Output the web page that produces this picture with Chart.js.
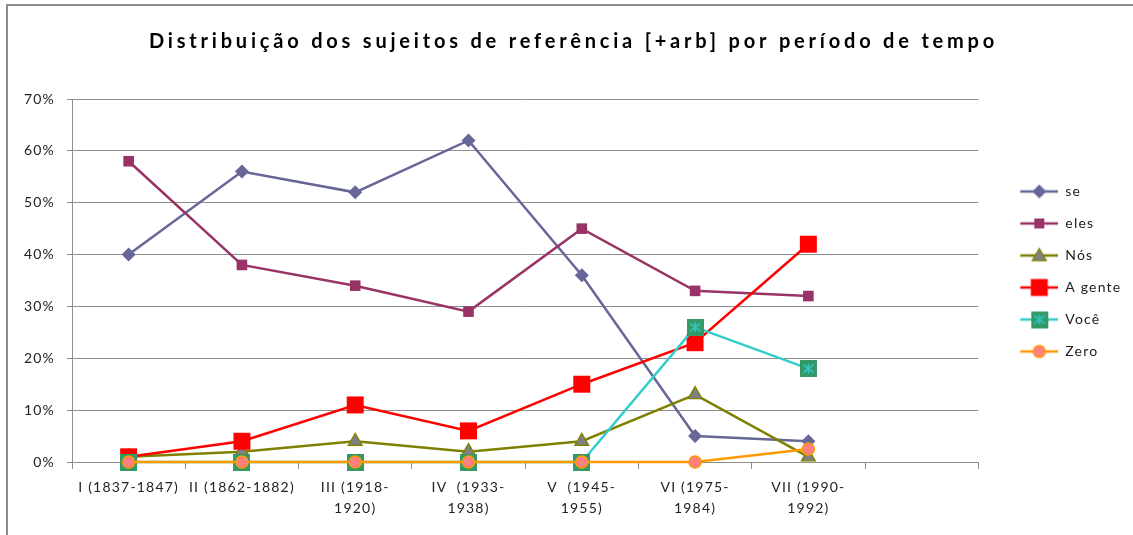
<!DOCTYPE html>
<html>
<head>
<meta charset="utf-8">
<script src="https://cdn.jsdelivr.net/npm/chart.js@4/dist/chart.umd.min.js"></script>
<style>
  html, body { margin: 0; padding: 0; background: #fff; overflow: hidden; }
  #frame { position: absolute; left: 6px; top: 4px; width: 1200px; height: 600px;
           border-top: 2px solid #8c8c8c; border-left: 2px solid #8c8c8c; }
  #wrap { position: absolute; left: 0; top: 0; width: 1133px; height: 535px; }
</style>
</head>
<body>
<div id="frame"></div>
<div id="wrap"><canvas id="chart" width="1133" height="535"></canvas></div>
<script>
// periods (the 8th slot is empty in the original)
const periods = [
    "I (1837-1847)",
    "II (1862-1882)",
    ["III (1918-", "1920)"],
    ["IV  (1933-", "1938)"],
    ["V  (1945-", "1955)"],
    ["VI (1975-", "1984)"],
    ["VII (1990-", "1992)"],
    ""
];

const seriesNames = ["se", "eles", "Nós", "A gente", "Você", "Zero"];

// percentages
const seVals     = [40, 56, 52, 62, 36, 5, 4, null];
const elesVals   = [58, 38, 34, 29, 45, 33, 32, null];
const nosVals    = [1, 2, 4, 2, 4, 13, 1, null];
const aGenteVals = [1, 4, 11, 6, 15, 23, 42, null];
const voceVals   = [0, 0, 0, 0, 0, 26, 18, null];
const zeroVals   = [0, 0, 0, 0, 0, 0, 2.5, null];

const yTicks = [0, 10, 20, 30, 40, 50, 60, 70];

const GRID = "#8f8f8f";
const FONT = "Lato";

function vocePoint(size) {
    const c = document.createElement("canvas");
    c.width = c.height = size;
    const g = c.getContext("2d");
    g.fillStyle = "#339966";
    g.fillRect(0, 0, size, size);
    g.strokeStyle = "#33CCCC";
    g.lineWidth = 1.4;
    const m = size / 2, a = size * 0.3;
    g.beginPath();
    g.moveTo(m, m - a); g.lineTo(m, m + a);
    g.moveTo(m - a, m - a * 0.75); g.lineTo(m + a, m + a * 0.75);
    g.moveTo(m - a, m + a * 0.75); g.lineTo(m + a, m - a * 0.75);
    g.stroke();
    return c;
}

// legend icon: line + marker, drawn in right part of a 62px wide box
function legendIcon(lineColor, drawMarker) {
    const c = document.createElement("canvas");
    c.width = 62; c.height = 20;
    const g = c.getContext("2d");
    g.strokeStyle = lineColor;
    g.lineWidth = 2.5;
    g.beginPath(); g.moveTo(24, 10); g.lineTo(62, 10); g.stroke();
    drawMarker(g, 43, 10);
    return c;
}

const legendIcons = [
    legendIcon("#666699", (g, x, y) => {
        g.fillStyle = "#666699";
        g.beginPath(); g.moveTo(x - 7, y); g.lineTo(x, y - 7); g.lineTo(x + 7, y); g.lineTo(x, y + 7); g.closePath(); g.fill();
    }),
    legendIcon("#993366", (g, x, y) => { g.fillStyle = "#993366"; g.fillRect(x - 5, y - 5, 10, 10); }),
    legendIcon("#808000", (g, x, y) => {
        g.fillStyle = "#808080"; g.strokeStyle = "#808000"; g.lineWidth = 1.3;
        g.beginPath(); g.moveTo(x, y - 7); g.lineTo(x + 7, y + 5); g.lineTo(x - 7, y + 5); g.closePath(); g.fill(); g.stroke();
    }),
    legendIcon("#FF0000", (g, x, y) => { g.fillStyle = "#FF0000"; g.fillRect(x - 8.5, y - 8.5, 17, 17); }),
    legendIcon("#33CCCC", (g, x, y) => { g.drawImage(vocePoint(17), x - 8.5, y - 8.5); }),
    legendIcon("#FF9900", (g, x, y) => {
        g.fillStyle = "#FF8080"; g.strokeStyle = "#FF9900"; g.lineWidth = 1.5;
        g.beginPath(); g.arc(x, y, 6, 0, Math.PI * 2); g.fill(); g.stroke();
    })
];

// the original text is spaced out; title even more
const spacedText = {
    id: "spacedText",
    beforeDraw(chart) {
        chart.ctx.letterSpacing = "1.2px";
        const t = chart.titleBlock;
        if (t && !t._spaced) {
            const orig = t.draw.bind(t);
            t.draw = function (area) {
                const ctx = chart.ctx;
                const prev = ctx.letterSpacing;
                ctx.save();
                ctx.translate(12, 0);
                ctx.letterSpacing = "3.8px";
                orig(area);
                ctx.restore();
                ctx.letterSpacing = prev;
            };
            t._spaced = true;
        }
    },
    afterDraw(chart) { chart.ctx.letterSpacing = "0px"; }
};

const vocePointImg = vocePoint(17);

const datasets = [
    { label: seriesNames[0], data: seVals, borderColor: "#666699", backgroundColor: "#666699",
      pointStyle: "rectRot", pointRadius: 7, borderWidth: 2.5, pointBorderWidth: 0, order: 6, clip: false },
    { label: seriesNames[1], data: elesVals, borderColor: "#993366", backgroundColor: "#993366",
      pointStyle: "rect", pointRadius: 7.5, borderWidth: 2.5, pointBorderWidth: 0, order: 5, clip: false },
    { label: seriesNames[2], data: nosVals, borderColor: "#808000", backgroundColor: "#808080",
      pointBorderColor: "#808000", pointStyle: "triangle", pointRadius: 8, borderWidth: 2.5, pointBorderWidth: 1.3, order: 4, clip: false },
    { label: seriesNames[3], data: aGenteVals, borderColor: "#FF0000", backgroundColor: "#FF0000",
      pointStyle: "rect", pointRadius: 12, borderWidth: 2.5, pointBorderWidth: 0, order: 3, clip: false },
    { label: seriesNames[4], data: voceVals, borderColor: "#33CCCC", backgroundColor: "#339966",
      pointStyle: vocePointImg, pointRadius: 9, borderWidth: 2.5, order: 2, clip: false },
    { label: seriesNames[5], data: zeroVals, borderColor: "#FF9900", backgroundColor: "#FF8080",
      pointBorderColor: "#FF9900", pointStyle: "circle", pointRadius: 6, borderWidth: 2.5, pointBorderWidth: 1.5, order: 1, clip: false }
];

new Chart(document.getElementById("chart"), {
    type: "line",
    data: { labels: periods, datasets },
    plugins: [spacedText],
    options: {
        responsive: false,
        animation: false,
        devicePixelRatio: 1,
        layout: { padding: { left: 0, right: 10, top: 8, bottom: 0 } },
        elements: { line: { tension: 0 } },
        plugins: {
            tooltip: { enabled: false },
            title: {
                display: true,
                text: "Distribuição dos sujeitos de referência [+arb] por período de tempo",
                color: "#000",
                font: { family: FONT, size: 20, weight: "bold" },
                padding: { top: 22, bottom: 45 }
            },
            legend: {
                position: "right",
                align: "center",
                labels: {
                    usePointStyle: true,
                    pointStyleWidth: 62,
                    boxHeight: 14,
                    padding: 18,
                    color: "#222",
                    font: { family: FONT, size: 14 },
                    generateLabels(chart) {
                        const items = Chart.defaults.plugins.legend.labels.generateLabels(chart);
                        items.forEach(it => { it.pointStyle = legendIcons[it.datasetIndex]; });
                        return items.sort((a, b) => a.datasetIndex - b.datasetIndex);
                    }
                }
            }
        },
        scales: {
            x: {
                type: "category",
                offset: true,
                grid: { display: true, drawOnChartArea: false, drawTicks: true, tickLength: 7, offset: true, color: GRID, lineWidth: 1 },
                border: { display: true, color: GRID, width: 1 },
                ticks: {
                    autoSkip: false, maxRotation: 0, minRotation: 0, padding: 8,
                    color: "#222", font: { family: FONT, size: 14, lineHeight: 1.5 }
                },
                afterFit(scale) { scale.height = 73; }
            },
            y: {
                min: 0, max: 70,
                afterBuildTicks(scale) { scale.ticks = yTicks.map(v => ({ value: v })); },
                grid: { color: GRID, lineWidth: 1, drawTicks: true, tickLength: 5 },
                border: { display: true, color: GRID, width: 1 },
                ticks: {
                    padding: 12, color: "#222", font: { family: FONT, size: 14 },
                    callback: v => v + "%"
                },
                afterFit(scale) { scale.width = 72; }
            }
        }
    }
});
</script>
</body>
</html>
